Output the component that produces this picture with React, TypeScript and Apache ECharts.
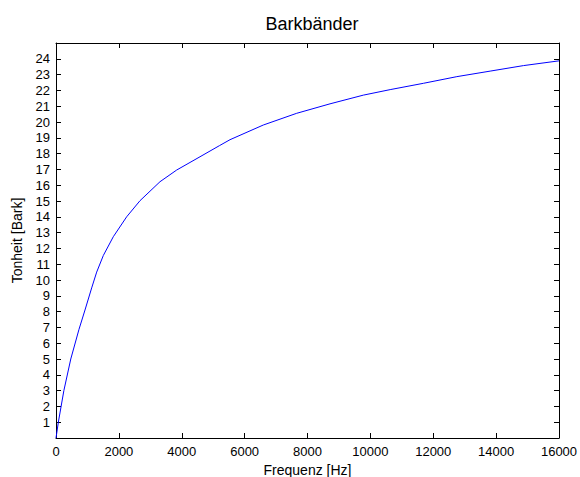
import React, { useEffect, useRef } from "react";
import * as echarts from "echarts";

const chartTitle = "Barkbänder";
const xName = "Frequenz [Hz]";
const yName = "Tonheit [Bark]";

// Frequency (Hz) and critical band rate (Bark)
const frequencies = [
  0, 75, 250, 470, 732, 922, 1135, 1294, 1505, 1823, 2248, 2672, 3308, 3838,
  4581, 5196, 5535, 6595, 7656, 8716, 9776, 10630, 11690, 12750, 13810, 14870,
  16000,
];
const barkValues = [
  0, 1.0, 3.0, 5.0, 6.88, 8.1, 9.5, 10.5, 11.55, 12.74, 14.0, 15.02, 16.22,
  16.96, 17.8, 18.5, 18.88, 19.81, 20.55, 21.15, 21.7, 22.05, 22.45, 22.87,
  23.22, 23.57, 23.87,
];

const xMin = 0;
const xMax = 16000;
const xStep = 2000;
const yMin = 0;
const yMax = 25;
const yStep = 1;

const FONT = "'Liberation Sans', Arial, Helvetica, sans-serif";

export default function App() {
  const ref = useRef<HTMLDivElement>(null);

  useEffect(() => {
    document.body.style.margin = "0";
    if (!ref.current) return;
    const chart = echarts.init(ref.current, undefined, { renderer: "svg" });
    const data = frequencies.map((f, i) => [f, barkValues[i]]);

    const axisLine = { show: true, onZero: false, lineStyle: { color: "#000", width: 1 } };
    const tickIn = { show: true, inside: true, length: 5, lineStyle: { color: "#000", width: 1 } };

    chart.setOption({
      animation: false,
      backgroundColor: "#fff",
      title: {
        text: chartTitle,
        left: 307,
        top: 10,
        textAlign: "center",
        textStyle: { fontFamily: FONT, fontSize: 18, fontWeight: "normal", color: "#000" },
      },
      grid: {
        left: 56,
        right: 21,
        top: 43,
        bottom: 39,
        containLabel: false,
        outerBoundsMode: "none",
      },
      xAxis: [
        {
          type: "value",
          min: xMin,
          max: xMax,
          interval: xStep,
          position: "bottom",
          name: xName,
          nameLocation: "middle",
          nameGap: 23,
          nameTextStyle: { fontFamily: FONT, fontSize: 14, color: "#000" },
          axisLine,
          axisTick: tickIn,
          splitLine: { show: false },
          axisLabel: {
            fontFamily: FONT,
            fontSize: 13,
            color: "#000",
            margin: 7,
            formatter: (v: number) => String(v),
          },
        },
        {
          type: "value",
          min: xMin,
          max: xMax,
          interval: xStep,
          position: "top",
          axisLine,
          axisTick: tickIn,
          splitLine: { show: false },
          axisLabel: { show: false },
        },
      ],
      yAxis: [
        {
          type: "value",
          min: yMin,
          max: yMax,
          interval: yStep,
          position: "left",
          name: yName,
          nameLocation: "middle",
          nameGap: 32,
          nameTextStyle: { fontFamily: FONT, fontSize: 14, color: "#000" },
          axisLine,
          axisTick: tickIn,
          splitLine: { show: false },
          axisLabel: {
            fontFamily: FONT,
            fontSize: 13,
            color: "#000",
            margin: 6,
            formatter: (v: number) => (v === yMin || v === yMax ? "" : String(v)),
          },
        },
        {
          type: "value",
          min: yMin,
          max: yMax,
          interval: yStep,
          position: "right",
          axisLine,
          axisTick: tickIn,
          splitLine: { show: false },
          axisLabel: { show: false },
        },
      ],
      series: [
        {
          type: "line",
          xAxisIndex: 0,
          yAxisIndex: 0,
          data,
          showSymbol: false,
          smooth: false,
          lineStyle: { color: "#0000ff", width: 1 },
        },
      ],
    });

    return () => chart.dispose();
  }, []);

  return (
    <div
      ref={ref}
      style={{ width: 580, height: 477, position: "absolute", left: 0, top: 0 }}
    />
  );
}
